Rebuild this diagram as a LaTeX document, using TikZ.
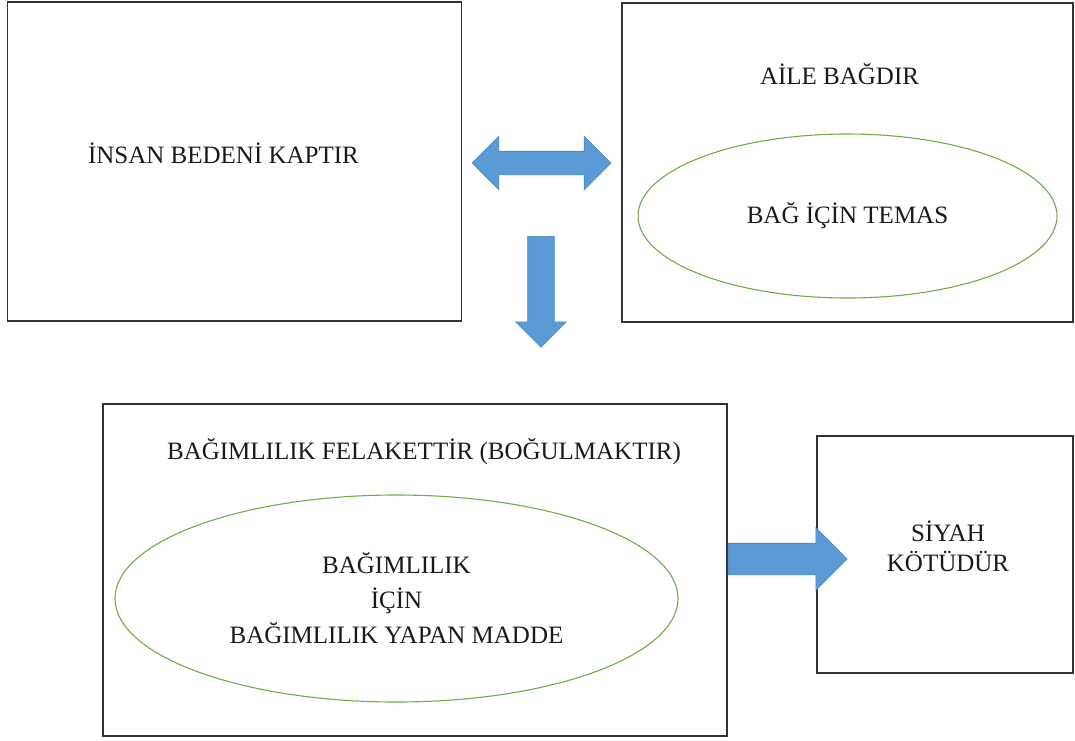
\documentclass[tikz,border=0pt]{standalone}
\usepackage{fontspec}
\setmainfont{Liberation Serif}
\usetikzlibrary{positioning,shapes.geometric,shapes.arrows}
\definecolor{okmavi}{HTML}{5B9BD5}
\definecolor{okkenar}{HTML}{4A86C0}
\definecolor{halkayesil}{HTML}{70AD47}
\tikzset{
    kutu/.style = {draw=black!80, line width=1.6pt, rectangle, inner sep=0pt},
    halka/.style = {draw=halkayesil, line width=1.1pt, ellipse, inner sep=0pt, align=center},
    yazi/.style = {font=\fontsize{25}{30}\selectfont, text=black!90, align=center, inner sep=0pt},
    blok-ok/.style = {fill=okmavi, draw=okkenar, line width=0.6pt, single arrow, inner sep=0pt, anchor=tail},
    cift-ok/.style = {fill=okmavi, draw=okkenar, line width=0.6pt, double arrow, inner sep=0pt},
}

\begin{document}
\begin{tikzpicture}[x=1pt,y=-1pt]
\useasboundingbox (0,0) rectangle (1075,740);

% ust kutular
\node [kutu, minimum width=454pt, minimum height=319pt] (kap) at (234.5,161.5) {};
\node [yazi] (kapyazi) at (223.5,153.5) {İNSAN BEDENİ KAPTIR};

\node [kutu, minimum width=451pt, minimum height=319pt] (aile) at (847.5,162.5) {};
\node [yazi] (aileyazi) at (839.5,74.5) {AİLE BAĞDIR};
\node [halka, yazi, minimum width=419pt, minimum height=164pt] (bag) at (847.5,216) {BAĞ İÇİN TEMAS};

% oklar
\node [cift-ok, minimum height=139pt, inner ysep=11.5pt, double arrow head extend=15pt] (ciftok) at (541.5,163) {};
\node [blok-ok, rotate=-90, minimum height=111pt, inner ysep=13pt, single arrow head extend=12pt] (asagiok) at (541,236) {};

% alt kutular
\node [kutu, minimum width=624pt, minimum height=332pt] (bagimlilik) at (415,570) {};
\node [yazi] (felaket) at (424,452) {BAĞIMLILIK FELAKETTİR (BOĞULMAKTIR)};
\node [halka, yazi, minimum width=563pt, minimum height=207pt] (madde) at (396.5,598.5) {BAĞIMLILIK\\[5pt] İÇİN\\[5pt] BAĞIMLILIK YAPAN MADDE};

\node [kutu, minimum width=256pt, minimum height=237pt] (siyah) at (945,554.5) {};
\node [yazi] (siyahyazi) at (948,546) {SİYAH\\ KÖTÜDÜR};

\node [blok-ok, minimum height=119pt, inner ysep=15.5pt, single arrow head extend=15.5pt] (sagok) at (bagimlilik.east |- 0,559) {};
\end{tikzpicture}
\end{document}
